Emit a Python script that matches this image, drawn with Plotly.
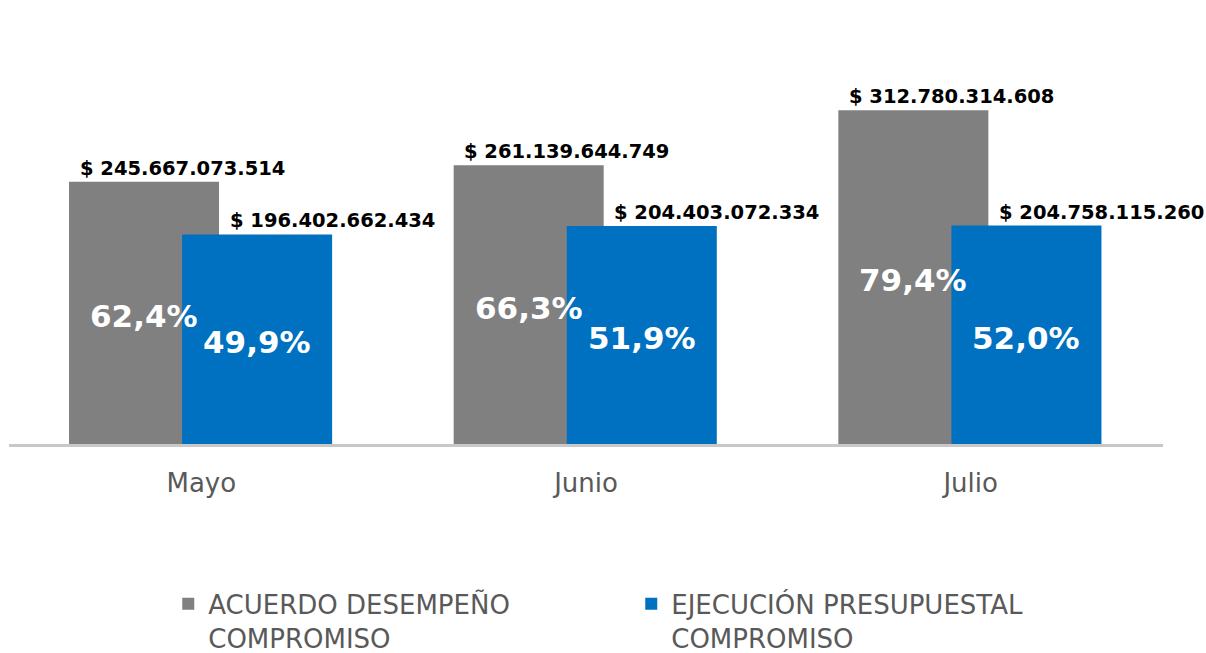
import plotly.graph_objects as go

meses = ["Mayo", "Junio", "Julio"]
acuerdo = [245667073514, 261139644749, 312780314608]
ejecucion = [196402662434, 204403072334, 204758115260]
acuerdo_pct = ["62,4%", "66,3%", "79,4%"]
ejecucion_pct = ["49,9%", "51,9%", "52,0%"]
acuerdo_txt = ["$ 245.667.073.514", "$ 261.139.644.749", "$ 312.780.314.608"]
ejecucion_txt = ["$ 196.402.662.434", "$ 204.403.072.334", "$ 204.758.115.260"]

GRIS = "#808080"
AZUL = "#0070C0"
FUENTE = "DejaVu Sans"

ANCHO = 0.39
OFF_GRIS = -0.344
OFF_AZUL = -0.05
pos = list(range(len(meses)))

fig = go.Figure()
fig.add_trace(go.Bar(
    x=pos, y=acuerdo, name="ACUERDO DESEMPEÑO<br>COMPROMISO",
    marker=dict(color=GRIS, line=dict(width=0)), width=ANCHO, offset=OFF_GRIS,
    hoverinfo="skip",
))
fig.add_trace(go.Bar(
    x=pos, y=ejecucion, name="EJECUCIÓN PRESUPUESTAL<br>COMPROMISO",
    marker=dict(color=AZUL, line=dict(width=0)), width=ANCHO, offset=OFF_AZUL,
    hoverinfo="skip",
))

etiqueta = dict(family=FUENTE, size=19.5, color="black", weight="bold")
pct = dict(family=FUENTE, size=31, color="white", weight="bold")

for i in pos:
    # montos sobre las barras
    fig.add_annotation(x=i + OFF_AZUL, y=acuerdo[i], text=acuerdo_txt[i],
                       showarrow=False, yanchor="bottom", font=etiqueta)
    fig.add_annotation(x=i + OFF_AZUL + ANCHO, y=ejecucion[i], text=ejecucion_txt[i],
                       showarrow=False, yanchor="bottom", font=etiqueta)
    # porcentajes dentro de las barras
    fig.add_annotation(x=i + OFF_GRIS + ANCHO / 2, y=acuerdo[i] / 2, text=acuerdo_pct[i],
                       showarrow=False, yshift=-3, font=pct)
    fig.add_annotation(x=i + OFF_AZUL + ANCHO / 2, y=ejecucion[i] / 2, text=ejecucion_pct[i],
                       showarrow=False, yshift=-3, font=pct)

fig.update_layout(
    width=1206, height=653,
    margin=dict(l=9, r=43, t=30, b=208.5, autoexpand=False),
    barmode="overlay",
    plot_bgcolor="white", paper_bgcolor="white",
    font=dict(family=FUENTE, color="#595959"),
    showlegend=True,
    legend=dict(
        orientation="h", x=0.138, xanchor="left", y=-0.3293, yanchor="top",
        font=dict(family=FUENTE, size=26, color="#595959"),
        entrywidth=418, valign="top", traceorder="normal",
    ),
    xaxis=dict(
        range=[-0.5, 2.5], tickvals=pos, ticktext=meses,
        showline=True, linecolor="#C8C8C8", linewidth=3,
        showgrid=False, zeroline=False, ticks="", ticklabelstandoff=14,
        tickfont=dict(family=FUENTE, size=26, color="#595959"),
        fixedrange=True,
    ),
    yaxis=dict(
        range=[0, 388e9], visible=False, showgrid=False, zeroline=False,
        fixedrange=True,
    ),
)

# sin margen del body para que la figura ocupe exactamente la ventana
fig.write_html("out.html", config={"displayModeBar": False},
               post_script="document.body.style.margin='0px';")
